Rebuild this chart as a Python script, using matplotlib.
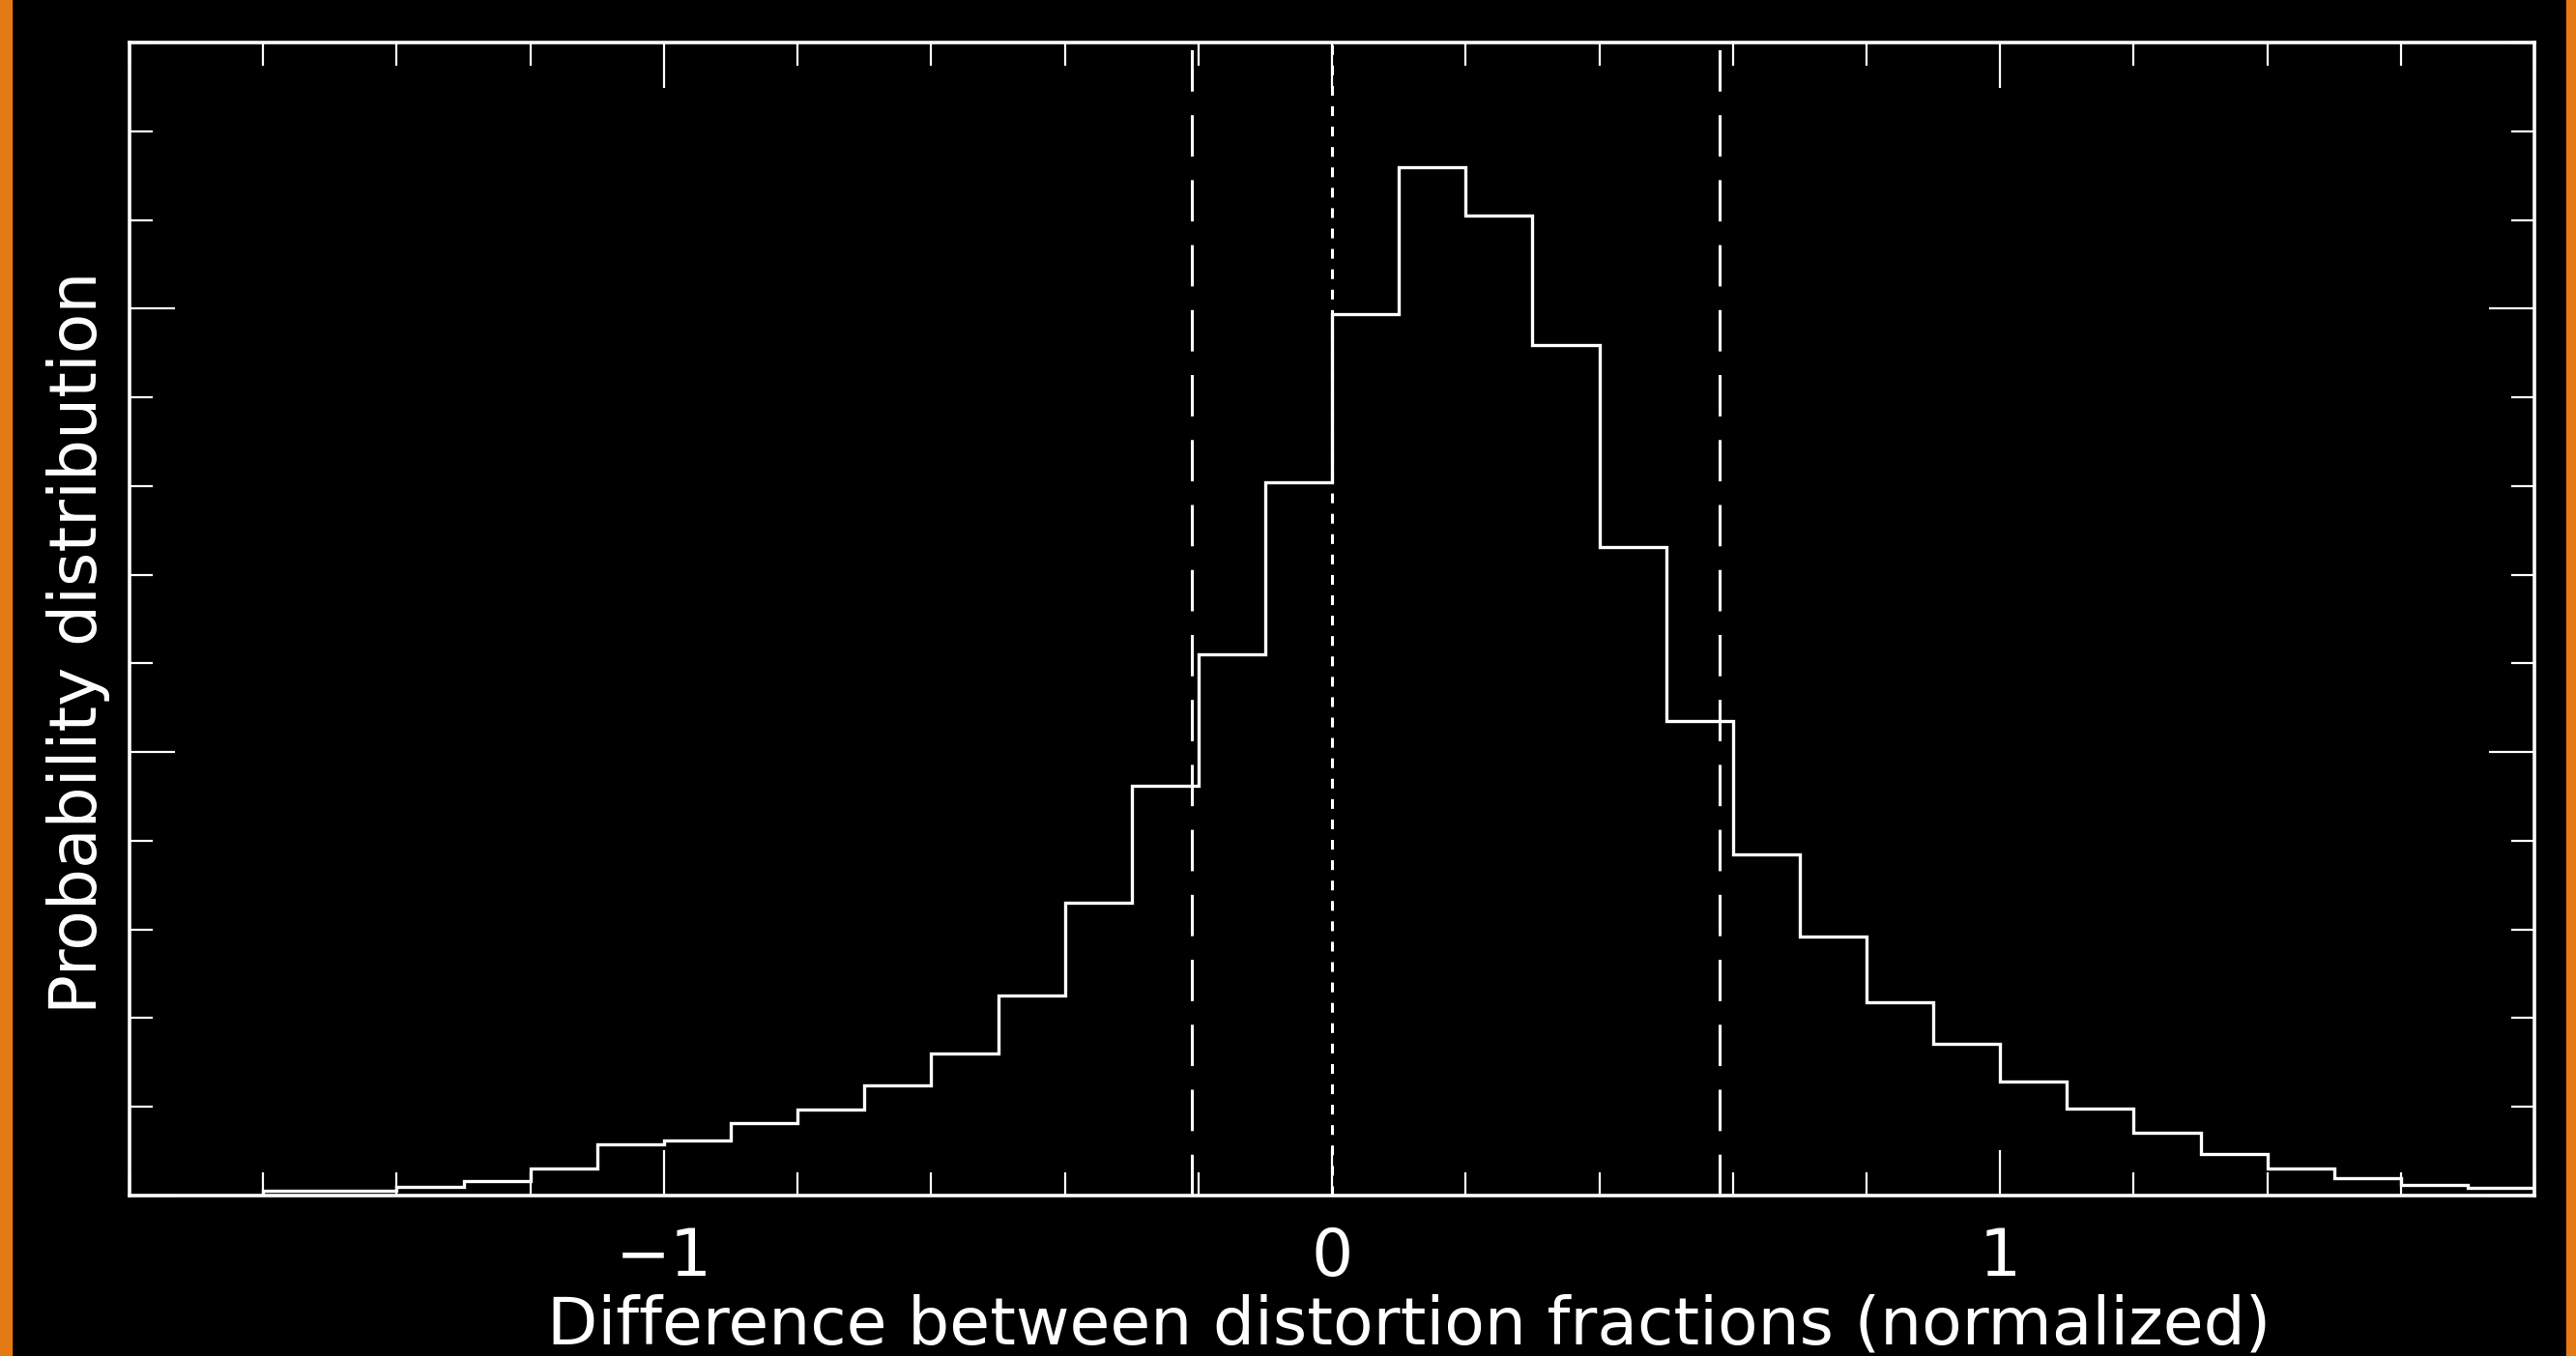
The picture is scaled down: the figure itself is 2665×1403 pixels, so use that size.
import numpy as np
import matplotlib
matplotlib.use("Agg")
import matplotlib.pyplot as plt
from matplotlib.patches import Rectangle
from matplotlib.ticker import MultipleLocator, NullFormatter

# histogram of the normalized difference (density, bin width 0.1)
bin_edges = np.linspace(-1.6, 1.8, 35)
density = [
    0.005, 0.005, 0.0095, 0.016, 0.031, 0.058, 0.062, 0.082,
    0.097, 0.124, 0.160, 0.226, 0.330, 0.462, 0.610, 0.804,
    0.994, 1.160, 1.105, 0.959, 0.731, 0.535, 0.385, 0.292,
    0.218, 0.171, 0.1285, 0.098, 0.071, 0.047, 0.031, 0.0196,
    0.0123, 0.0084,
]
interval_lines = [-0.21, 0.58]
zero_line = 0.0

x_major = [-1, 0, 1]
x_labels = ["\u22121", "0", "1"]

xlabel = "Difference between distortion fractions (normalized)"
ylabel = "Probability distribution"

font = ["DejaVu Sans"]
fs = 49

fig = plt.figure(figsize=(26.65, 14.03), dpi=100, facecolor="black")
ax = fig.add_axes([0.0503, 0.1183, 0.9336, 0.8503], facecolor="black")

# orange slide border strips
fig.patches.append(Rectangle((0, 0), 12 / 2665, 1, transform=fig.transFigure,
                             color="#e57a14", zorder=0))
fig.patches.append(Rectangle((1 - 10 / 2665, 0), 10 / 2665, 1, transform=fig.transFigure,
                             color="#e57a14", zorder=0))

ax.stairs(density, bin_edges, color="white", linewidth=2.4, baseline=0)

for x in interval_lines:
    ax.axvline(x, color="white", linewidth=2.2, linestyle=(0, (14, 8)))
ax.axvline(zero_line, color="white", linewidth=2.2, linestyle=(0, (3.3, 3.6)))

ax.set_xlim(-1.8, 1.8)
ax.set_ylim(0, 1.3)

ax.set_xticks(x_major)
ax.set_xticklabels(x_labels)
ax.xaxis.set_minor_locator(MultipleLocator(0.2))
ax.yaxis.set_major_locator(MultipleLocator(0.5))
ax.yaxis.set_minor_locator(MultipleLocator(0.1))
ax.yaxis.set_major_formatter(NullFormatter())

ax.tick_params(which="both", direction="in", top=True, right=True, color="white",
               labelcolor="white", labelsize=fs, pad=22)
ax.tick_params(which="major", length=34, width=1.6)
ax.tick_params(which="minor", length=17, width=1.6)
for lab in ax.get_xticklabels():
    lab.set_family(font)

for sp in ax.spines.values():
    sp.set_color("white")
    sp.set_linewidth(2.6)

ax.set_xlabel(xlabel, color="white", fontsize=fs, family=font)
ax.set_ylabel(ylabel, color="white", fontsize=fs, family=font)
ax.xaxis.set_label_coords(0.532, -0.085)
ax.yaxis.set_label_coords(-0.008, 0.48)

fig.savefig("out.png", dpi=100, facecolor="black")
